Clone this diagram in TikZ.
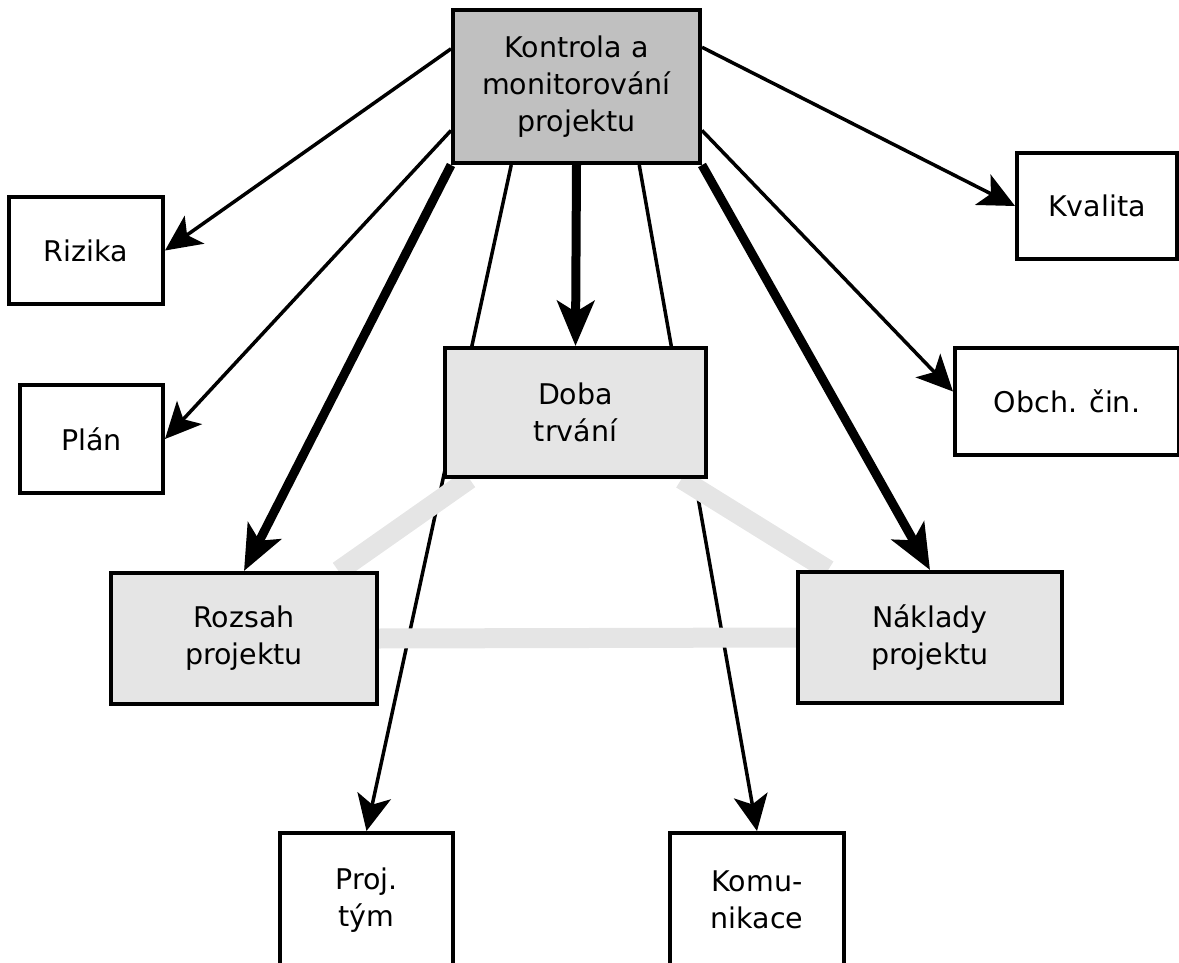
\documentclass[tikz,border=0pt]{standalone}
\usepackage{fontspec}
\setmainfont{DejaVu Sans}
\usetikzlibrary{arrows.meta,calc}
\pgfdeclarelayer{bg}
\pgfdeclarelayer{mid}
\pgfsetlayers{bg,mid,main}

\definecolor{boxdark}{HTML}{C0C0C0}
\definecolor{boxlight}{HTML}{E5E5E5}

\tikzset{
  box/.style={draw=black, line width=4pt, fill=white, inner sep=0pt,
    align=center, font=\fontsize{28.5}{37}\selectfont},
  corebox/.style={box, fill=boxlight},
  mainbox/.style={box, fill=boxdark},
  thinarrow/.style={line width=3.5pt,
    -{Stealth[length=36pt, width=34pt, inset=9pt]}},
  thickarrow/.style={line width=9pt,
    -{Stealth[length=45pt, width=37pt, inset=11pt]}},
  band/.style={draw=boxlight, line width=20pt}
}

\begin{document}
\begin{tikzpicture}[x=1pt, y=-1pt]
  \useasboundingbox (0,0) rectangle (1179,963);
  \clip (0,0) rectangle (1179,963);

  % boxes
  \node[mainbox, minimum width=247pt, minimum height=153pt] (top) at (576.5,86.5)
    {Kontrola a\\monitorování\\projektu};
  \node[box, minimum width=154pt, minimum height=107pt] (rizika) at (86,250.5) {Rizika};
  \node[box, minimum width=143pt, minimum height=108pt] (plan) at (91.5,439) {Plán};
  \node[box, minimum width=160pt, minimum height=106pt] (kvalita) at (1097,206) {Kvalita};
  \node[box, minimum width=224pt, minimum height=107pt] (obch) at (1067,401.5) {Obch. čin.};
  \node[corebox, minimum width=261pt, minimum height=129pt] (doba) at (575.5,412.5)
    {Doba\\trvání};
  \node[corebox, minimum width=266pt, minimum height=131pt] (rozsah) at (244,638.5)
    {Rozsah\\projektu};
  \node[corebox, minimum width=264pt, minimum height=131pt] (naklady) at (930,637.5)
    {Náklady\\projektu};
  \node[box, minimum width=173pt, minimum height=134pt] (proj) at (366.5,900)
    {Proj.\\tým};
  \node[box, minimum width=174pt, minimum height=134pt] (komun) at (757,900)
    {Komu-\\nikace};

  % anchor points on the control box
  \coordinate (tl1) at ($(top.north west)!0.26!(top.south west)$);
  \coordinate (tl2) at ($(top.north west)!0.78!(top.south west)$);
  \coordinate (tr1) at ($(top.north east)!0.25!(top.south east)$);
  \coordinate (tr2) at ($(top.north east)!0.78!(top.south east)$);
  \coordinate (tb1) at ($(top.south west)!0.24!(top.south east)$);
  \coordinate (tb2) at ($(top.south west)!0.75!(top.south east)$);
  \coordinate (obchin) at ($(obch.north west)!0.41!(obch.south west)$);

  % ends of the triangle bands
  \coordinate (dl) at ($(doba.south west)!0.1!(doba.south east)$);
  \coordinate (dr) at ($(doba.south west)!0.9!(doba.south east)$);
  \coordinate (rz) at ($(rozsah.north west)!0.85!(rozsah.north east)$);
  \coordinate (nk) at ($(naklady.north west)!0.12!(naklady.north east)$);

  % lines passing behind the duration box
  \begin{pgfonlayer}{bg}
    \draw[thinarrow] (tb1) -- (proj.north);
    \draw[thinarrow] (tb2) -- (komun.north);
  \end{pgfonlayer}

  % triangle of scope, time and cost
  \begin{pgfonlayer}{mid}
    \draw[band] (dl) -- (rz);
    \draw[band] (dr) -- (nk);
    \draw[band] (rozsah.east) -- (naklady.west);
  \end{pgfonlayer}

  % arrows from the control box
  \draw[thinarrow] (tl1) -- (rizika.east);
  \draw[thinarrow] (tl2) -- (plan.east);
  \draw[thinarrow] (tr1) -- (kvalita.west);
  \draw[thinarrow] (tr2) -- (obchin);
  \draw[thickarrow] (top.south west) -- (rozsah.north);
  \draw[thickarrow] (top.south) -- (doba.north);
  \draw[thickarrow] (top.south east) -- (naklady.north);
\end{tikzpicture}
\end{document}
